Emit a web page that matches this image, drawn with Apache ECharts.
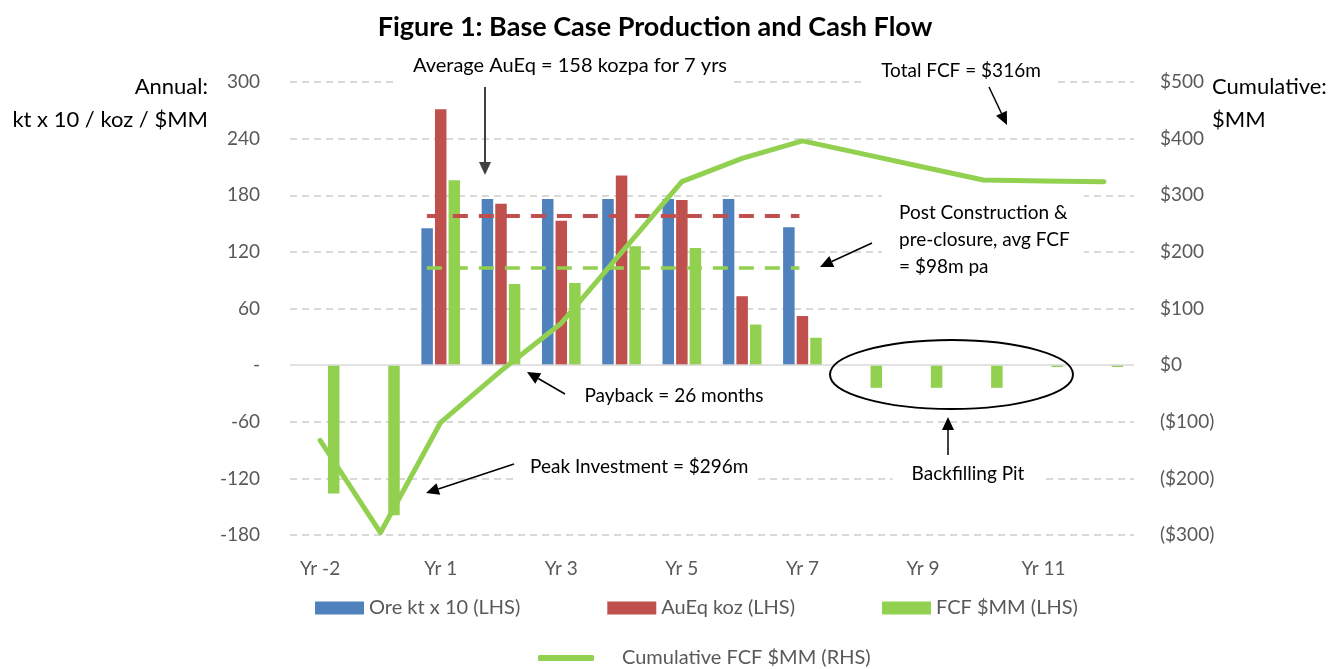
<!DOCTYPE html>
<html><head><meta charset="utf-8">
<script src="https://cdn.jsdelivr.net/npm/echarts@6/dist/echarts.min.js"></script>
<style>html,body{margin:0;padding:0;background:#fff}#c{width:1340px;height:669px}</style>
</head><body><div id="c"></div>
<script>
// ---- data ----
const categories = ['Yr -2','Yr -1','Yr 1','Yr 2','Yr 3','Yr 4','Yr 5','Yr 6','Yr 7','Yr 8','Yr 9','Yr 10','Yr 11','Yr 12'];
const oreKt      = [null, null, 145, 176, 176, 176, 176, 176, 146, null, null, null, null, null];
const auEqKoz    = [null, null, 271, 171, 153, 201, 175, 73, 52, null, null, null, null, null];
const fcf        = [-136, -159, 196, 86, 87, 126, 124, 43, 29, -24, -24, -24, -2, -2];
const cumFcf     = [-133, -296, -101, -10, 74, 199, 324, 365, 396, 373, 350, 327, 325, 324];
const avgAuEq = 158;
const avgFcf  = 103;
const leftTicks  = {min: -180, max: 300, step: 60};
const rightTicks = {min: -300, max: 500, step: 100};
const seriesNames = ['Ore kt x 10 (LHS)', 'AuEq koz (LHS)', 'FCF $MM (LHS)', 'Cumulative FCF $MM (RHS)'];

// ---- styles ----
const FONT = 'Lato';
const BLUE = '#4f81bd', RED = '#c0504d', GREEN = '#92d050', GRID = '#d9d9d9', LBL = '#595959';

const chart = echarts.init(document.getElementById('c'));

function arrow(x1, y1, x2, y2, w, col) {
  const a = Math.atan2(y2 - y1, x2 - x1), L = 13, H = 6;
  const bx = x2 - L * Math.cos(a), by = y2 - L * Math.sin(a);
  return [
    {type: 'line', z: 100, shape: {x1: x1, y1: y1, x2: bx, y2: by}, style: {stroke: col, lineWidth: w}},
    {type: 'polygon', z: 100, shape: {points: [[x2, y2], [bx + H * Math.sin(a), by - H * Math.cos(a)], [bx - H * Math.sin(a), by + H * Math.cos(a)]]}, style: {fill: col}}
  ];
}
// (x,y) = where the text itself is anchored; padding of the white box is compensated
function label(text, x, y, align, pad, extra) {
  let dx = 0, dy = 0;
  if (pad) {
    dy = -(pad[0] - pad[2]) / 2;
    dx = align === 'center' ? -(pad[3] - pad[1]) / 2 : (align === 'left' ? -pad[3] : pad[1]);
  }
  return {type: 'text', z: 100, x: x + dx, y: y + dy, style: Object.assign({
    text: text, font: '19px ' + FONT, fill: '#000', align: align, verticalAlign: 'middle',
    backgroundColor: pad ? '#fff' : null, padding: pad || 0
  }, extra || {})};
}

const splitColors = [];
for (let v = leftTicks.min; v <= leftTicks.max; v += leftTicks.step) splitColors.push(v === 0 ? 'rgba(0,0,0,0)' : GRID);

const graphics = [].concat(
  [label('Figure 1: Base Case Production and Cash Flow', 655, 27, 'center', null, {font: 'bold 27px ' + FONT})],
  [label('Annual:', 208, 87, 'right', null, {font: '22px ' + FONT})],
  [label('kt x 10 / koz / $MM', 208, 120, 'right', null, {font: '22px ' + FONT})],
  [label('Cumulative:', 1212, 87, 'left', null, {font: '22px ' + FONT})],
  [label('$MM', 1212, 120, 'left', null, {font: '22px ' + FONT})],
  [label('Average AuEq = 158 kozpa for 7 yrs', 570, 64, 'center', [8, 5, 12, 15], {font: '20px ' + FONT})],
  arrow(485, 87, 485, 175, 2, '#404040'),
  [label('Total FCF = $316m', 961, 69, 'center', [6, 15, 10, 20])],
  arrow(989, 87, 1007, 125, 1.5, '#000'),
  [label('Post Construction &\npre-closure, avg FCF\n= $98m pa', 899, 241, 'left', [10, 14, 8, 17], {lineHeight: 27})],
  arrow(872, 243, 820, 267, 1.5, '#000'),
  [label('Payback = 26 months', 674, 396, 'center', null)],
  arrow(565, 394, 527, 372, 1.5, '#000'),
  [label('Peak Investment = $296m', 530, 465, 'left', [6, 8, 10, 16])],
  arrow(514, 464, 426, 493, 1.5, '#000'),
  [{type: 'ellipse', z: 100, shape: {cx: 951.5, cy: 374.5, rx: 121.5, ry: 34.5}, style: {fill: null, stroke: '#000', lineWidth: 2}}],
  [label('Backfilling Pit', 968, 472, 'center', [6, 17, 10, 19])],
  arrow(948, 455, 948, 417, 1.5, '#000')
);

const option = {
  animation: false,
  backgroundColor: '#fff',
  textStyle: {fontFamily: FONT},
  grid: {left: 290, right: 206, top: 82, bottom: 134, containLabel: false},
  legend: [
    {data: seriesNames.slice(0, 3), left: 315, top: 598, padding: 0, itemWidth: 49, itemHeight: 13, itemGap: 87,
     icon: 'rect', textStyle: {fontSize: 20, color: LBL, fontFamily: FONT}},
    {data: [{name: seriesNames[3], icon: 'roundRect', itemStyle: {color: GREEN, borderWidth: 0}}],
     left: 538, top: 648, padding: 0, itemWidth: 56, itemHeight: 6,
     textStyle: {fontSize: 20, color: LBL, fontFamily: FONT, padding: [0, 0, 0, 23]}}
  ],
  xAxis: [
    {type: 'category', data: categories, boundaryGap: true,
     axisLine: {show: false, onZero: false}, axisTick: {show: false},
     axisLabel: {interval: 1, color: LBL, fontSize: 19, fontFamily: FONT, margin: 24}},
    {type: 'value', min: 0, max: categories.length, show: false}
  ],
  yAxis: [
    {type: 'value', min: leftTicks.min, max: leftTicks.max, interval: leftTicks.step,
     axisLine: {show: false}, axisTick: {show: false},
     axisLabel: {color: LBL, fontSize: 19, fontFamily: FONT, margin: 30, formatter: v => v === 0 ? '-' : String(v)},
     splitLine: {show: true, lineStyle: {color: splitColors, width: 2, type: [7, 5]}}},
    {type: 'value', min: rightTicks.min, max: rightTicks.max, interval: rightTicks.step,
     axisLine: {show: false}, axisTick: {show: false}, splitLine: {show: false},
     axisLabel: {color: LBL, fontSize: 19, fontFamily: FONT, margin: 26,
                 formatter: v => v < 0 ? '($' + (-v) + ')' : '$' + v}}
  ],
  series: [
    {name: seriesNames[0], type: 'bar', data: oreKt, barWidth: 11.5, barGap: '18%', itemStyle: {color: BLUE}, z: 2},
    {name: seriesNames[1], type: 'bar', data: auEqKoz, barWidth: 11.5, barGap: '18%', itemStyle: {color: RED}, z: 2},
    {name: seriesNames[2], type: 'bar', data: fcf, barWidth: 11.5, barGap: '18%', itemStyle: {color: GREEN}, z: 2,
     markLine: {silent: true, symbol: 'none', label: {show: false}, lineStyle: {color: GRID, width: 1.5, type: 'solid'}, data: [{yAxis: 0}]}},
    {name: 'avgAuEq', type: 'line', xAxisIndex: 1, yAxisIndex: 0, data: [[2.27, avgAuEq], [8.45, avgAuEq]], symbol: 'none', silent: true, z: 3,
     lineStyle: {color: RED, width: 4, type: [15, 11]}},
    {name: 'avgFcf', type: 'line', xAxisIndex: 1, yAxisIndex: 0, data: [[2.27, avgFcf], [8.45, avgFcf]], symbol: 'none', silent: true, z: 3,
     lineStyle: {color: GREEN, width: 3.5, type: [15, 11]}},
    {name: seriesNames[3], type: 'line', yAxisIndex: 1, data: cumFcf, symbol: 'none', z: 5,
     itemStyle: {color: GREEN}, lineStyle: {color: GREEN, width: 5, cap: 'round', join: 'round'}}
  ],
  graphic: {elements: graphics}
};
chart.setOption(option);
</script></body></html>
